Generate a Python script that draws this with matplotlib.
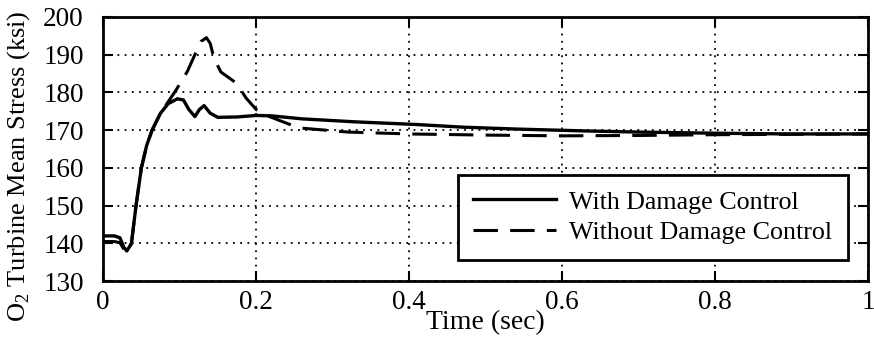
import numpy as np
import matplotlib.pyplot as plt

plt.rcParams['font.family'] = ['Liberation Serif', 'DejaVu Serif']
plt.rcParams['mathtext.fontset'] = 'custom'
plt.rcParams['mathtext.rm'] = 'Liberation Serif'

# with damage control (solid)
t_with = [0.0, 0.015, 0.022, 0.027, 0.031, 0.037, 0.043, 0.05, 0.057, 0.064, 0.075, 0.085,
          0.097, 0.105, 0.112, 0.12, 0.126, 0.132, 0.14, 0.15, 0.175, 0.2, 0.22, 0.26,
          0.33, 0.41, 0.47, 0.54, 0.63, 0.7, 0.8, 0.9, 1.0]
s_with = [142.0, 142.0, 141.5, 139.0, 138.0, 140.0, 150.0, 160.0, 166.0, 170.0, 174.5, 177.0,
          178.3, 178.0, 175.5, 173.6, 175.5, 176.5, 174.5, 173.4, 173.5, 173.9, 173.8, 173.0,
          172.2, 171.5, 170.8, 170.3, 169.8, 169.5, 169.2, 169.0, 169.0]

# without damage control (dashed)
t_without = [0.0, 0.015, 0.022, 0.027, 0.031, 0.037, 0.043, 0.05, 0.057, 0.064, 0.075, 0.085,
             0.095, 0.11, 0.12, 0.128, 0.135, 0.14, 0.145, 0.154, 0.174, 0.187, 0.2, 0.215,
             0.234, 0.256, 0.32, 0.4, 0.5, 0.6, 0.7, 0.8, 0.9, 1.0]
s_without = [140.5, 140.5, 140.2, 138.5, 137.5, 140.0, 150.0, 160.0, 166.0, 170.0, 174.5, 177.5,
             180.5, 185.5, 190.0, 193.5, 194.5, 193.0, 189.0, 185.4, 182.5, 178.5, 175.5, 173.8,
             172.3, 170.6, 169.5, 169.0, 168.7, 168.5, 168.6, 168.8, 168.9, 169.0]

fs = 19.5

fig = plt.figure(figsize=(8.74, 3.38), dpi=100)
ax = fig.add_axes([0.118, 0.168, 0.875, 0.782])

ax.plot(t_with, s_with, color='black', lw=2.4, ls='-', label='With Damage Control')
ax.plot(t_without, s_without, color='black', lw=2.2, ls=(0, (8, 4)), label='Without Damage Control')

ax.set_xlim(0, 1)
ax.set_ylim(130, 200)
ax.set_xticks([0, 0.2, 0.4, 0.6, 0.8, 1])
ax.set_xticklabels(['0', '0.2', '0.4', '0.6', '0.8', '1'])
ax.set_yticks(range(130, 201, 10))
ax.tick_params(direction='in', length=7, width=1.5, labelsize=fs, right=True, top=True)
ax.tick_params(axis='x', pad=6)
ax.tick_params(axis='y', pad=14)
ax.grid(True, color='black', ls=(0, (1, 3)), lw=1.3)
for sp in ax.spines.values():
    sp.set_linewidth(2)

ax.set_xlabel('Time (sec)', fontsize=fs + 0.5, labelpad=-3)
ax.set_ylabel('O$_2$ Turbine Mean Stress (ksi)', fontsize=19)
ax.yaxis.set_label_coords(-0.093, 0.436)

leg = ax.legend(loc='lower right', fontsize=18.7, fancybox=False, framealpha=1,
                edgecolor='black', borderpad=0.6, labelspacing=0.3, handlelength=3.2,
                handletextpad=0.5, borderaxespad=0, bbox_to_anchor=(0.974, 0.08))
leg.get_frame().set_linewidth(2)

plt.savefig('out.png', dpi=100)
